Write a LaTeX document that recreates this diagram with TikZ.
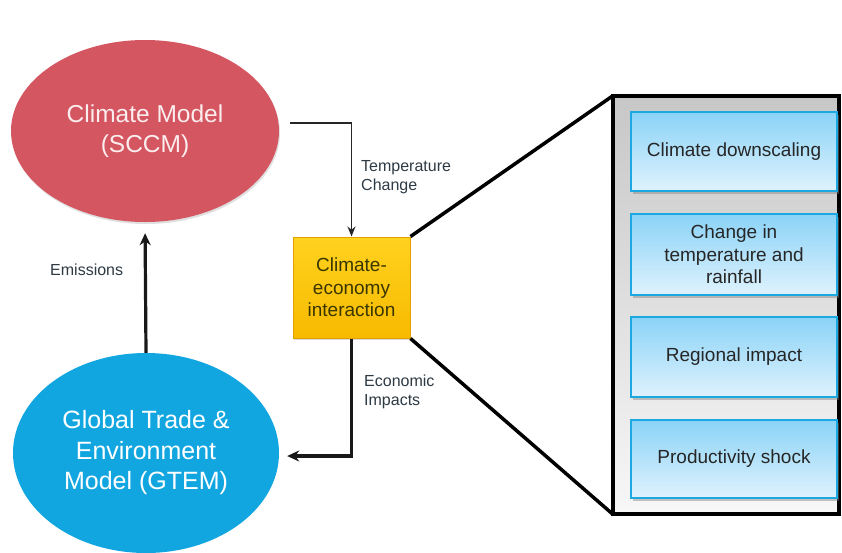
\documentclass[tikz,border=0pt]{standalone}
\usepackage{fontspec}
\setmainfont{Liberation Sans}
\usetikzlibrary{shapes.geometric,arrows.meta,shadows,calc}
\definecolor{redell}{HTML}{D45661}
\definecolor{redtxt}{HTML}{FBEDEE}
\definecolor{blueell}{HTML}{12A6E0}
\definecolor{yelltop}{HTML}{FFD21F}
\definecolor{yellbot}{HTML}{F7BA00}
\definecolor{yellbd}{HTML}{E39E00}
\definecolor{yelltxt}{HTML}{3A3600}
\definecolor{boxtop}{HTML}{8AD3F7}
\definecolor{boxbot}{HTML}{DFF2FD}
\definecolor{boxbd}{HTML}{1CA8E0}
\definecolor{lbl}{HTML}{2E3A44}
\tikzset{
  modelell/.style={ellipse, inner sep=0pt, align=center, text=redtxt,
    font=\fontsize{24.5}{30}\selectfont},
  stepbox/.style={rectangle, minimum width=206pt, inner sep=0pt, align=center,
    draw=boxbd, line width=1.3pt, top color=boxtop, bottom color=boxbot,
    text=black!85, font=\fontsize{19}{22.5}\selectfont,
    drop shadow={shadow xshift=1.5pt, shadow yshift=-2.5pt, opacity=0.45}},
  lbltxt/.style={align=left, text=lbl, font=\fontsize{16}{18.5}\selectfont, inner sep=0pt},
  arr/.style={-{Stealth[length=12pt,width=11pt]}, line width=3.2pt, black!90},
  thinarr/.style={-{Stealth[length=10pt,width=8pt]}, line width=1.8pt, black!85},
}
\begin{document}
\begin{tikzpicture}[x=1pt,y=-1pt]
\useasboundingbox (0,0) rectangle (842,552);
\fill[white] (0,0) rectangle (842,552);

% ellipses
\node[modelell, fill=redell, minimum width=268pt, minimum height=182pt,
  drop shadow={shadow xshift=1pt, shadow yshift=-2pt, opacity=0.25}] (red) at (145,131)
  {Climate Model\\(SCCM)};
\node[modelell, fill=blueell, text=white, minimum width=266pt, minimum height=200pt,
  font=\fontsize{25}{30.5}\selectfont] (blue) at (146,453)
  {Global Trade \&\\Environment\\Model (GTEM)};

% yellow box
\node[rectangle, minimum width=117pt, minimum height=101pt, inner sep=0pt, align=center,
  top color=yelltop, bottom color=yellbot, draw=yellbd, line width=1pt,
  text=yelltxt, font=\fontsize{19}{22.5}\selectfont,
  drop shadow={shadow xshift=1pt, shadow yshift=-2pt, opacity=0.3}] (yb) at (351.5,287.5)
  {Climate-\\economy\\interaction};

% frame
\node[rectangle, minimum width=226pt, minimum height=418pt, inner sep=0pt,
  top color=black!22, bottom color=black!3] (frame) at (726,305) {};
\draw[line width=4.5pt, black] (frame.north west) rectangle (frame.south east);

% boxes in frame
\node[stepbox, minimum height=79pt] (b1) at (734,151.5) {Climate downscaling};
\node[stepbox, minimum height=81pt] (b2) at (734,254.5) {Change in\\temperature and\\rainfall};
\node[stepbox, minimum height=80pt] (b3) at (734,357) {Regional impact};
\node[stepbox, minimum height=78pt] (b4) at (734,459) {Productivity shock};

% zoom lines
\draw[line width=3.5pt] (yb.north east) -- (frame.north west);
\draw[line width=3.5pt] (yb.south east) -- (frame.south west);

% connectors
\draw[arr, shorten >=11pt] (blue.north) -- (red.south);
\draw[thinarr] ([shift={(11,-8)}]red.east) -| (yb.north);
\draw[arr] (yb.south) |- ([shift={(8,3)}]blue.east);

% labels
\node[lbltxt, anchor=west] (lemis) at (50,270) {Emissions};
\node[lbltxt, anchor=west] (ltemp) at (361,177) {Temperature\\Change};
\node[lbltxt, anchor=west] (lecon) at (364,392) {Economic\\Impacts};
\end{tikzpicture}
\end{document}
